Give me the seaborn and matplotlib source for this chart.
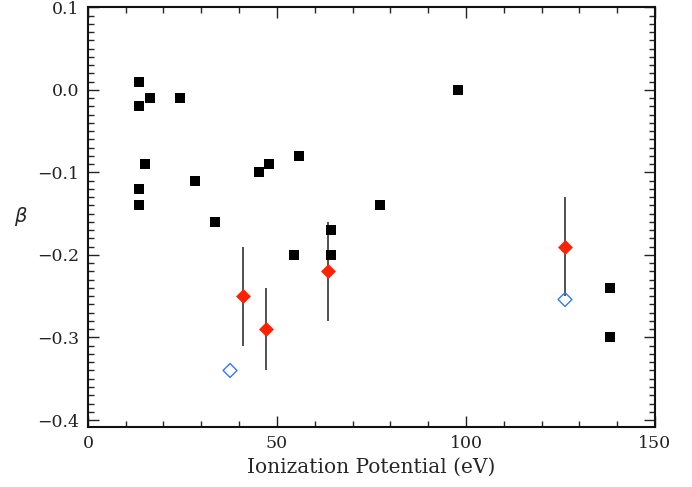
import numpy as np
import pandas as pd
import matplotlib
matplotlib.use("Agg")
import matplotlib.pyplot as plt
import seaborn as sns
from matplotlib.ticker import MultipleLocator

# black squares
sq_x = [13.5, 13.5, 16.4, 24.3, 15.1, 13.5, 13.5, 28.3, 33.6, 45.2, 47.9, 55.8,
        54.5, 64.3, 64.3, 77.2, 97.9, 138.1, 138.1]
sq_y = [0.01, -0.02, -0.01, -0.01, -0.09, -0.12, -0.14, -0.11, -0.16, -0.10, -0.09, -0.08,
        -0.20, -0.17, -0.20, -0.14, 0.00, -0.24, -0.30]

# red diamonds with error bars
red_x = [40.9, 47.1, 63.4, 126.2]
red_y = [-0.25, -0.29, -0.22, -0.19]
red_err = [0.06, 0.05, 0.06, 0.06]

# open blue diamonds
blue_x = [37.6, 126.2]
blue_y = [-0.34, -0.254]

sns.set_style("ticks")
plt.rcParams['font.family'] = ['DejaVu Serif']

fig = plt.figure(figsize=(6.92, 4.87), dpi=100)
ax = fig.add_axes([0.127, 0.124, 0.8195, 0.861])

ax.errorbar(red_x, red_y, yerr=red_err, fmt='none', ecolor='#222222', elinewidth=1.1, capsize=0, zorder=2)
sns.scatterplot(x=sq_x, y=sq_y, marker='s', s=60, color='black', edgecolor='black', linewidth=0, ax=ax, zorder=3)
sns.scatterplot(x=red_x, y=red_y, marker='D', s=50, color='#ff2200', edgecolor='#ff2200', linewidth=0.5, ax=ax, zorder=4)
sns.scatterplot(x=blue_x, y=blue_y, marker='D', s=50, facecolor='none', edgecolor='#3377ff', linewidth=1.0, ax=ax, zorder=4)

ax.set_xlim(0, 150)
ax.set_ylim(-0.408, 0.1)
ax.xaxis.set_major_locator(MultipleLocator(50))
ax.xaxis.set_minor_locator(MultipleLocator(10))
ax.yaxis.set_minor_locator(MultipleLocator(0.01))
ax.set_yticks([0.1, 0.0, -0.1, -0.2, -0.3, -0.4])
ax.set_yticklabels(['0.1', '0.0', '\u22120.1', '\u22120.2', '\u22120.3', '\u22120.4'])
ax.tick_params(which='major', direction='in', length=8, width=1.0, top=True, right=True,
               labelsize=12.5, colors='#222222', pad=6)
ax.tick_params(which='minor', direction='in', length=4, width=1.0, top=True, right=True)
for sp in ax.spines.values():
    sp.set_visible(True)
    sp.set_linewidth(1.5)
    sp.set_color('#111111')

ax.set_xlabel('Ionization Potential (eV)', fontsize=14.5, labelpad=4)
ax.set_ylabel(r'$\beta$', fontsize=14, rotation=0, labelpad=12, va='center')

fig.savefig('out.png', dpi=100)
